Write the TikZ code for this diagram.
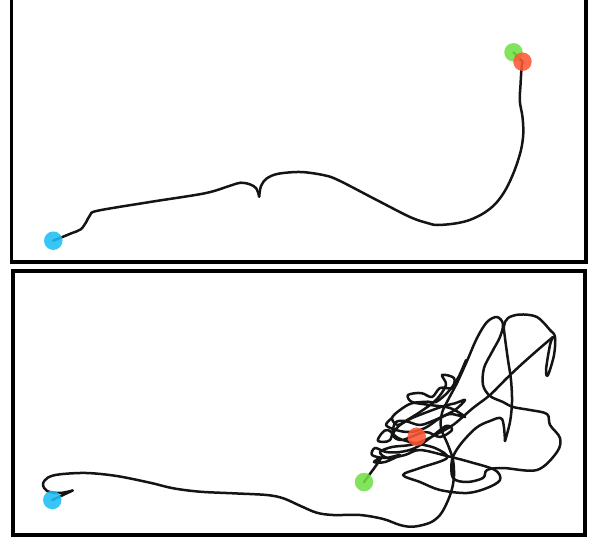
\documentclass[tikz,border=0pt]{standalone}
\begin{document}
\begin{tikzpicture}[x=1pt,y=-1pt,
  frame/.style={line width=3.8pt,draw=black},
  traj/.style={line width=2.5pt,draw=black!92,line join=round,line cap=round},
  dot/.style={circle,inner sep=0pt,minimum size=18.5pt,fill opacity=0.88,draw=none}]
\definecolor{cBlue}{RGB}{28,190,245}
\definecolor{cGreen}{RGB}{112,224,70}
\definecolor{cRed}{RGB}{255,88,52}
\useasboundingbox (0,0) rectangle (589,541);
% frames
\draw[frame] (11.5,-2) rectangle (586,262);
\draw[frame] (13,271) rectangle (585,535);
% ---------- top trajectory ----------
\draw[traj] plot[smooth,tension=0.55] coordinates {(53.3,240.7) (71.4,233.3) (80.8,229.3) (86.4,221.7) (90.2,215) (97.7,210.7) (150,202) (204.7,193.3) (229.2,186) (240.4,182.7) (249.8,184.3) (256.2,188.3) (259.2,196.7)};
\draw[traj] plot[smooth,tension=0.55] coordinates {(259.2,196.7) (261,186) (266.7,178.5) (278,173.8) (300.5,172) (323,175) (338,180) (375.7,199.5) (410,217) (428.3,223.3) (437.6,225) (455,223.5) (469.6,220) (484,213) (495.9,203.3) (506,189) (514.7,170) (521,150) (523.3,133.3) (522.5,117) (519.8,101) (520.5,85) (521.4,70) (522.5,61.7)};
\draw[traj] (522.5,61.7) -- (513.5,52.3);
\node[dot,fill=cGreen] (tg) at (513.5,52.3) {};
\node[dot,fill=cRed] (tr) at (522.5,61.7) {};
\node[dot,fill=cBlue] (tb) at (53.3,240.7) {};
% ---------- bottom trajectory ----------
\draw[traj] (52.3,500) -- (72.7,490.5);
\draw[traj] plot[smooth,tension=0.55] coordinates {(72.7,490.5) (60,493) (47,491) (43,484) (48,477.5) (60,474.3) (86.7,473) (116.7,476) (150,482.7) (173.3,488.3) (200,491.7) (233.3,493.3) (266.7,495) (283.3,498.3) (300,505.7) (316.7,512.7) (333.3,515) (360,515) (383.3,519) (400,525) (413.3,526.7) (430,522.7) (440,515) (446.7,503.3) (451.7,490) (454,476) (453,460) (448,445) (441,428) (442,413) (448,400) (457,383) (467,361) (477,338) (487,322) (497,317) (503,324) (500,337) (492,352) (484,368) (483,385) (490,396) (503,402) (513,407) (530,410) (547,414) (550,425) (560,438) (557,452) (537,470) (503,468) (487,470) (483,478) (467,482) (453,478) (452,460) (460,445) (476,428) (490,421) (502,419) (505,441)};
\draw[traj] plot[smooth,tension=0.55] coordinates {(505,441) (510,422) (512,402) (511,380) (508,360) (505,338) (504,326) (508,318) (520,314.5) (537,317) (550,330) (555,337) (554,355) (548,375) (546,370) (550,345) (553,337)};
\draw[traj] plot[smooth,tension=0.55] coordinates {(553,337) (540,348) (523,363) (507,378) (490,395) (473,408) (453,425) (435,435) (425,440) (410,445) (392,447) (380,452) (388,458) (405,455) (420,450) (447,456) (470,462) (495,470) (500,480) (487,488) (467,493) (440,490) (420,482) (403,475) (420,468) (447,458) (435,448) (410,442) (398,438) (388,430) (382,433) (378,441) (390,440) (395,423) (405,421) (420,425) (435,420) (450,414) (465,417) (450,408) (430,405) (412,402) (408,395) (421,393) (432,397) (440,388) (452,388) (454,378) (442,375) (446,385) (436,400) (420,412) (400,425) (393,435) (402,440) (425,432) (440,437) (452,430) (446,426) (430,438) (415,448) (400,452) (386,452) (375,448) (372,455) (385,458) (400,455) (385,462) (374,462) (381,458) (375,467) (364,482)};
\draw[traj] plot[smooth,tension=0.55] coordinates {(466,360) (458,378) (448,392) (436,402) (428,401.7) (411.7,403.3) (400,410) (392,418) (398,425) (412,418) (441.7,406.7) (455,403.3) (465,400) (455,410) (440,418) (425,428) (410,432) (396,430) (386,425) (392,418)};
\node[dot,fill=cBlue] (bb) at (52.3,500) {};
\node[dot,fill=cGreen] (bg) at (364,482) {};
\node[dot,fill=cRed] (br) at (416.7,436.7) {};
\end{tikzpicture}
\end{document}
